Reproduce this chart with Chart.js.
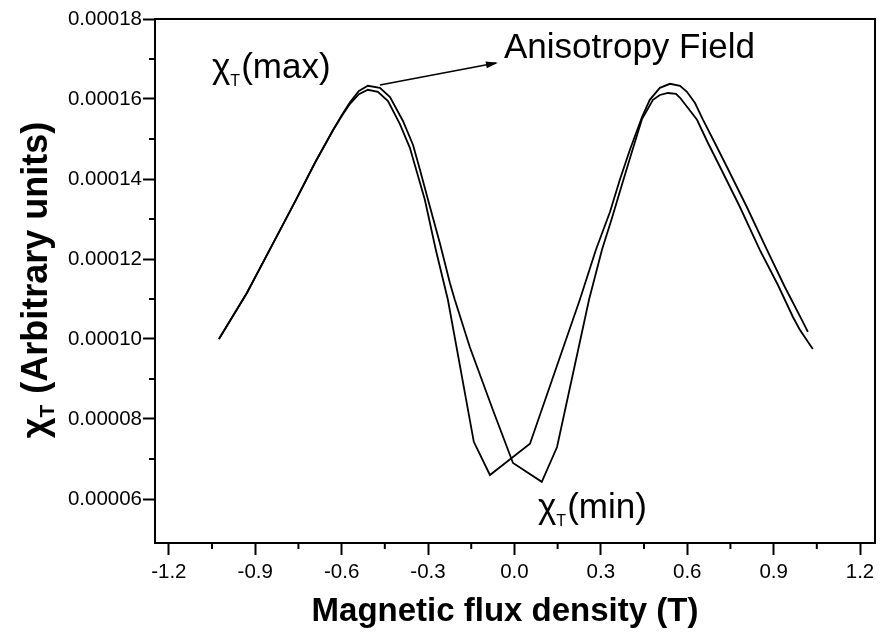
<!DOCTYPE html>
<html><head><meta charset="utf-8">
<script src="https://cdn.jsdelivr.net/npm/chart.js@4.4.1/dist/chart.umd.min.js"></script>
<style>html,body{margin:0;padding:0;background:#fff;}canvas{display:block}</style>
</head><body>
<canvas id="c" width="881" height="632"></canvas>
<script>
// Sweep A: minimum at negative field (inner left peak, outer right peak)
const fieldSweepA = [-1.026,-0.929,-0.839,-0.759,-0.693,-0.630,-0.599,-0.571,-0.540,-0.509,-0.474,-0.439,-0.398,-0.363,-0.339,-0.311,-0.273,-0.231,-0.141,-0.085,0.054,0.227,0.283,0.332,0.366,0.401,0.443,0.470,0.505,0.540,0.575,0.599,0.627,0.655,0.696,0.738,0.807,0.877,0.939,0.998,1.019];
const chiSweepA = [1.000e-4,1.115e-4,1.238e-4,1.347e-4,1.440e-4,1.522e-4,1.558e-4,1.588e-4,1.612e-4,1.623e-4,1.618e-4,1.595e-4,1.538e-4,1.478e-4,1.418e-4,1.348e-4,1.223e-4,1.098e-4,0.743e-4,0.660e-4,0.738e-4,1.098e-4,1.223e-4,1.318e-4,1.398e-4,1.473e-4,1.555e-4,1.598e-4,1.628e-4,1.638e-4,1.633e-4,1.618e-4,1.590e-4,1.548e-4,1.490e-4,1.430e-4,1.330e-4,1.223e-4,1.130e-4,1.048e-4,1.018e-4];
// Sweep B: minimum at positive field (outer left peak, inner right peak)
const fieldSweepB = [-1.026,-0.929,-0.839,-0.759,-0.693,-0.630,-0.599,-0.571,-0.540,-0.509,-0.467,-0.432,-0.387,-0.352,-0.328,-0.300,-0.259,-0.224,-0.207,-0.155,-0.075,-0.005,0.095,0.148,0.259,0.304,0.339,0.373,0.408,0.443,0.481,0.505,0.533,0.561,0.575,0.602,0.634,0.672,0.714,0.783,0.852,0.915,0.967,0.991,1.036];
const chiSweepB = [1.000e-4,1.115e-4,1.238e-4,1.347e-4,1.440e-4,1.522e-4,1.560e-4,1.592e-4,1.620e-4,1.633e-4,1.628e-4,1.605e-4,1.545e-4,1.485e-4,1.423e-4,1.348e-4,1.240e-4,1.140e-4,1.098e-4,0.980e-4,0.823e-4,0.690e-4,0.643e-4,0.730e-4,1.098e-4,1.223e-4,1.303e-4,1.385e-4,1.468e-4,1.550e-4,1.598e-4,1.610e-4,1.615e-4,1.613e-4,1.603e-4,1.578e-4,1.548e-4,1.490e-4,1.430e-4,1.330e-4,1.223e-4,1.135e-4,1.055e-4,1.023e-4,0.975e-4];

const xTickValues = [-1.2,-0.9,-0.6,-0.3,0.0,0.3,0.6,0.9,1.2];
const xMinorValues = [-1.05,-0.75,-0.45,-0.15,0.15,0.45,0.75,1.05];
const yTickValues = [0.00006,0.00008,0.00010,0.00012,0.00014,0.00016,0.00018];
const yMinorValues = [0.00007,0.00009,0.00011,0.00013,0.00015,0.00017];

const xTitle = 'Magnetic flux density (T)';
const yTitleRest = ' (Arbitrary units)';
const labelMaxRest = '(max)';
const labelMinRest = '(min)';
const labelField = 'Anisotropy Field';

const FONT = '"Liberation Sans", Arial, sans-serif';

function chiWidth(ctx, size, subSize, rest, weight){
  ctx.font = `${weight} ${size}px ${FONT}`;
  let w = ctx.measureText('χ').width;
  ctx.font = `${weight} ${subSize}px ${FONT}`;
  w += ctx.measureText('T').width + 1;
  ctx.font = `${weight} ${size}px ${FONT}`;
  w += ctx.measureText(rest).width;
  return w;
}
function chiText(ctx, x, y, size, subSize, subDrop, rest, weight){
  ctx.font = `${weight} ${size}px ${FONT}`;
  ctx.fillText('χ', x, y);
  let w = ctx.measureText('χ').width;
  ctx.font = `${weight} ${subSize}px ${FONT}`;
  ctx.fillText('T', x + w, y + subDrop);
  w += ctx.measureText('T').width + 1;
  ctx.font = `${weight} ${size}px ${FONT}`;
  ctx.fillText(rest, x + w, y);
}

const decor = {
  id: 'decor',
  afterDraw(chart){
    const {ctx, chartArea: a, scales: {x, y}} = chart;
    ctx.save();
    ctx.strokeStyle = '#000'; ctx.fillStyle = '#000'; ctx.lineWidth = 2;
    // top and right frame
    ctx.beginPath();
    ctx.moveTo(a.left, a.top); ctx.lineTo(a.right, a.top); ctx.lineTo(a.right, a.bottom);
    ctx.stroke();
    // minor ticks
    ctx.beginPath();
    xMinorValues.forEach(v => { const p = x.getPixelForValue(v); ctx.moveTo(p, a.bottom); ctx.lineTo(p, a.bottom + 6); });
    yMinorValues.forEach(v => { const p = y.getPixelForValue(v); ctx.moveTo(a.left, p); ctx.lineTo(a.left - 6, p); });
    ctx.stroke();

    // arrow to anisotropy field label
    const x0 = x.getPixelForValue(-0.467), y0 = y.getPixelForValue(1.635e-4);
    const x1 = x.getPixelForValue(-0.064), y1 = y.getPixelForValue(1.690e-4);
    ctx.lineWidth = 1.7;
    ctx.beginPath(); ctx.moveTo(x0, y0); ctx.lineTo(x1, y1); ctx.stroke();
    const ang = Math.atan2(y1 - y0, x1 - x0);
    ctx.beginPath();
    ctx.moveTo(x1 + 2 * Math.cos(ang), y1 + 2 * Math.sin(ang));
    ctx.lineTo(x1 - 10 * Math.cos(ang) + 3.5 * Math.sin(ang), y1 - 10 * Math.sin(ang) - 3.5 * Math.cos(ang));
    ctx.lineTo(x1 - 10 * Math.cos(ang) - 3.5 * Math.sin(ang), y1 - 10 * Math.sin(ang) + 3.5 * Math.cos(ang));
    ctx.closePath(); ctx.fill();

    // annotations
    ctx.textAlign = 'left'; ctx.textBaseline = 'alphabetic';
    chiText(ctx, 212, 78, 35, 16, 8, labelMaxRest, 'normal');
    chiText(ctx, 538, 518, 35, 16, 8, labelMinRest, 'normal');
    ctx.font = `normal 35px ${FONT}`;
    ctx.fillText(labelField, 504, 58);

    // x title
    ctx.font = `bold 33px ${FONT}`;
    ctx.textAlign = 'center';
    ctx.fillText(xTitle, 505, 621);

    // y title
    ctx.textAlign = 'left';
    const tw = chiWidth(ctx, 36, 21, yTitleRest, 'bold');
    ctx.translate(47, 280 + tw / 2);
    ctx.rotate(-Math.PI / 2);
    chiText(ctx, 0, 0, 36, 21, 7, yTitleRest, 'bold');
    ctx.restore();
  }
};

const tickFont = {family: '"Liberation Sans", Arial, sans-serif', size: 20.5};

new Chart(document.getElementById('c'), {
  type: 'scatter',
  data: {
    datasets: [
      {label: 'Sweep A', data: fieldSweepA.map((v, i) => ({x: v, y: chiSweepA[i]})), showLine: true, borderColor: '#000', borderWidth: 1.8, pointRadius: 0, tension: 0, fill: false},
      {label: 'Sweep B', data: fieldSweepB.map((v, i) => ({x: v, y: chiSweepB[i]})), showLine: true, borderColor: '#000', borderWidth: 1.8, pointRadius: 0, tension: 0, fill: false}
    ]
  },
  options: {
    responsive: false, animation: false, devicePixelRatio: 1,
    layout: {padding: {left: 0, right: 6, top: 19, bottom: 0}},
    plugins: {legend: {display: false}, tooltip: {enabled: false}},
    scales: {
      x: {
        type: 'linear', position: 'bottom', min: -1.248, max: 1.252,
        afterBuildTicks: s => { s.ticks = xTickValues.map(v => ({value: v})); },
        afterFit: s => { s.height = 89; },
        ticks: {callback: v => Number(v).toFixed(1), font: tickFont, color: '#000', padding: 5, maxRotation: 0, autoSkip: false},
        grid: {display: true, drawOnChartArea: false, drawTicks: true, tickLength: 12, tickWidth: 2, tickColor: '#000'},
        border: {display: true, color: '#000', width: 2}
      },
      y: {
        type: 'linear', position: 'left', min: 0.000049, max: 0.00018,
        afterBuildTicks: s => { s.ticks = yTickValues.map(v => ({value: v})); },
        afterFit: s => { s.width = 155; },
        ticks: {callback: v => Number(v).toFixed(5), font: tickFont, color: '#000', padding: 1, autoSkip: false},
        grid: {display: true, drawOnChartArea: false, drawTicks: true, tickLength: 12, tickWidth: 2, tickColor: '#000'},
        border: {display: true, color: '#000', width: 2}
      }
    }
  },
  plugins: [decor]
});
</script>
</body></html>
